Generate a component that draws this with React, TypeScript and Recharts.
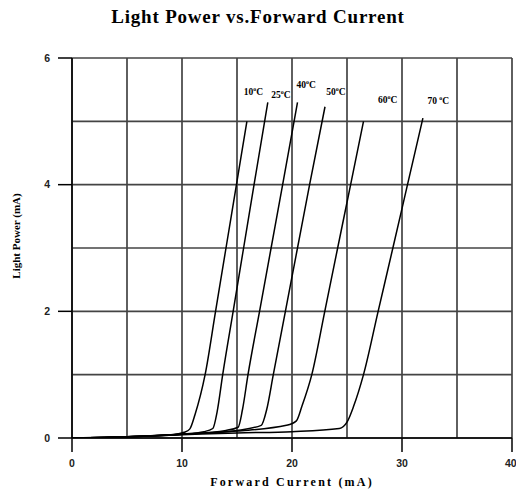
import { LineChart, Line, XAxis, YAxis, CartesianGrid, ReferenceDot, Label } from 'recharts';

// curve points: [forward current mA, light power mA]
const t10: [number, number][] = [[0, 0], [5, 0.02], [9, 0.05], [10.2, 0.09], [10.7, 0.14], [11.2, 0.38], [12.1, 1], [13.05, 2], [14.0, 3], [14.95, 4], [15.9, 5]];
const t25: [number, number][] = [[0, 0], [5, 0.02], [10, 0.06], [12, 0.1], [12.8, 0.15], [13.2, 0.42], [13.7, 1], [14.65, 2], [15.6, 3], [16.55, 4], [17.8, 5.3]];
const t40: [number, number][] = [[0, 0], [5, 0.02], [10, 0.06], [14, 0.12], [15.1, 0.17], [15.5, 0.45], [16, 1], [17.05, 2], [18.1, 3], [19.15, 4], [20.5, 5.3]];
const t50: [number, number][] = [[0, 0], [5, 0.02], [10, 0.06], [15, 0.12], [17.2, 0.2], [17.7, 0.45], [18.3, 1], [19.4, 2], [20.5, 3], [21.6, 4], [23, 5.23]];
const t60: [number, number][] = [[0, 0], [5, 0.02], [10, 0.06], [15, 0.11], [19.5, 0.2], [20.4, 0.27], [20.9, 0.5], [21.8, 1], [22.98, 2], [24.15, 3], [25.33, 4], [26.5, 5]];
const t70: [number, number][] = [[0, 0], [5, 0.02], [10, 0.05], [15, 0.08], [20, 0.1], [24.3, 0.15], [25, 0.25], [25.6, 0.5], [26.5, 1], [27.83, 2], [29.17, 3], [30.5, 4], [31.9, 5.05]];

const curves = [t10, t25, t40, t50, t60, t70];

// temperature labels: text before the degree sign, position in data units
const labelText = ['10', '25', '40', '50', '60', '70 '];
const labelX = [16.5, 19.0, 21.3, 24.0, 28.7, 33.3];
const labelY = [5.42, 5.37, 5.53, 5.42, 5.29, 5.28];

const xTicks = [0, 10, 20, 30, 40];
const yTicks = [0, 2, 4, 6];
const xGrid = [0, 5, 10, 15, 20, 25, 30, 35, 40];
const yGrid = [0, 1, 2, 3, 4, 5, 6];

const serif = '"Liberation Serif", "Times New Roman", serif';
const sans = '"Liberation Sans", Arial, sans-serif';

const toRows = (pts: [number, number][]) => pts.map(([x, y]) => ({ x, y }));

function TempLabel(props: any) {
  const { cx, cy, text } = props;
  return (
    <text x={cx} y={cy} textAnchor="middle" fontFamily={serif} fontWeight="bold" fontSize={9.5} fill="#000" stroke="none">
      {text}
      <tspan dy={-4} fontSize={6}>o</tspan>
      <tspan dy={4}>C</tspan>
    </text>
  );
}

export default function App() {
  return (
    <div style={{ position: 'absolute', left: 0, top: 0, width: 516, height: 490, background: '#fff' }}>
      <div
        style={{
          position: 'absolute',
          top: 6,
          left: 0,
          width: 516,
          textAlign: 'center',
          fontFamily: serif,
          fontWeight: 'bold',
          fontSize: 19,
          letterSpacing: 0.8,
        }}
      >
        Light Power vs.Forward Current
      </div>
      <LineChart width={516} height={490} margin={{ top: 58, right: 4, bottom: 0, left: 0 }}>
        <CartesianGrid
          stroke="#444"
          strokeWidth={1.7}
          horizontalValues={yGrid}
          verticalValues={xGrid}
        />
        <XAxis
          type="number"
          dataKey="x"
          domain={[0, 40]}
          ticks={xTicks}
          allowDataOverflow
          height={52}
          stroke="#000"
          strokeWidth={1.5}
          tickSize={14}
          tickMargin={8}
          tick={{ fontFamily: sans, fontWeight: 'bold', fontSize: 10.5, fill: '#222' }}
        >
          <Label
            value="Forward Current (mA)"
            position="insideBottom"
            offset={4}
            style={{ fontFamily: serif, fontWeight: 'bold', fontSize: 12, letterSpacing: 2.2, fill: '#000' }}
          />
        </XAxis>
        <YAxis
          type="number"
          dataKey="y"
          domain={[0, 6]}
          ticks={yTicks}
          allowDataOverflow
          width={72}
          stroke="#000"
          strokeWidth={1.5}
          tickSize={14}
          tickMargin={8}
          tick={{ fontFamily: sans, fontWeight: 'bold', fontSize: 10.5, fill: '#222' }}
        >
          <Label
            content={() => (
              <text
                transform="translate(20,236) rotate(-90)"
                textAnchor="middle"
                fontFamily={serif}
                fontWeight="bold"
                fontSize={11}
                fill="#000"
              >
                Light Power (mA)
              </text>
            )}
          />
        </YAxis>
        {curves.map((c, i) => (
          <Line
            key={i}
            data={toRows(c)}
            dataKey="y"
            type="monotone"
            stroke="#000"
            strokeWidth={1.5}
            dot={false}
            activeDot={false}
            isAnimationActive={false}
          />
        ))}
        {labelText.map((t, i) => (
          <ReferenceDot
            key={t}
            x={labelX[i]}
            y={labelY[i]}
            r={0}
            shape={(p: any) => <TempLabel {...p} text={t} />}
          />
        ))}
      </LineChart>
    </div>
  );
}
